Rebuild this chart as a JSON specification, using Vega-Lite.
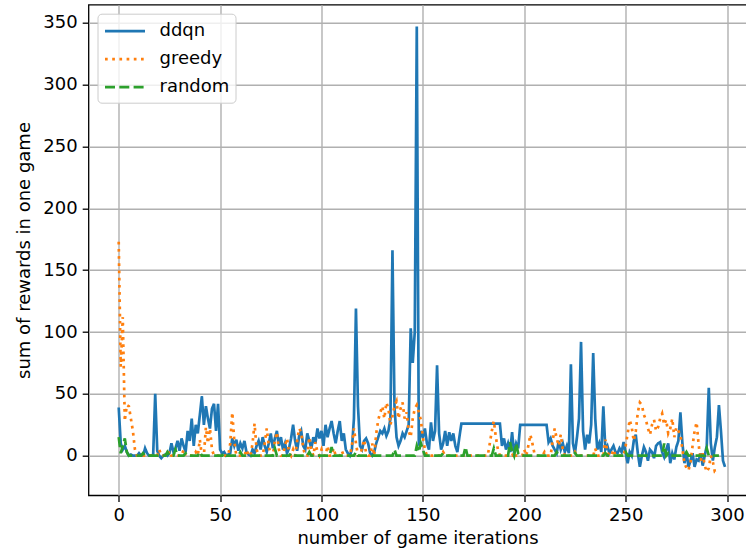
{
  "$schema": "https://vega.github.io/schema/vega-lite/v6.json",
  "width": 658,
  "height": 490.6,
  "autosize": {"type": "none"},
  "padding": {"left": 88.5, "top": 4.7, "right": 0, "bottom": 58.7},
  "background": "white",
  "config": {
    "font": "DejaVu Sans",
    "view": {"stroke": "black", "strokeWidth": 1.3},
    "axis": {
      "domain": false,
      "tickColor": "black",
      "tickSize": 6.3,
      "tickWidth": 1.3,
      "labelFont": "DejaVu Sans",
      "labelFontSize": 18,
      "labelColor": "black",
      "labelPadding": 5,
      "titleFont": "DejaVu Sans",
      "titleFontSize": 18,
      "titleFontWeight": "normal",
      "titleColor": "black",
      "gridColor": "#b0b0b0",
      "gridWidth": 1.4
    },
    "legend": {
      "orient": "top-left",
      "offset": 8.5,
      "padding": 6,
      "cornerRadius": 4,
      "strokeColor": "#cccccc",
      "fillColor": "rgba(255,255,255,0.8)",
      "symbolType": "M-2,0H2",
      "symbolSize": 400,
      "symbolOffset": 10,
      "symbolStrokeWidth": 2.7,
      "labelFont": "DejaVu Sans",
      "labelFontSize": 18,
      "labelColor": "black",
      "labelOffset": 23,
      "rowPadding": 7
    }
  },
  "data": {
    "values": [
      {"x":0,"ddqn":39,"greedy":173,"random":15},
      {"x":1,"ddqn":10,"greedy":72,"random":2},
      {"x":2,"ddqn":5,"greedy":112,"random":8},
      {"x":3,"ddqn":8,"greedy":28,"random":14},
      {"x":4,"ddqn":3,"greedy":41,"random":3},
      {"x":5,"ddqn":0,"greedy":40,"random":0},
      {"x":6,"ddqn":1,"greedy":30,"random":0},
      {"x":7,"ddqn":0,"greedy":20,"random":0},
      {"x":8,"ddqn":0,"greedy":5,"random":0},
      {"x":9,"ddqn":0,"greedy":0,"random":0},
      {"x":10,"ddqn":2,"greedy":0,"random":0},
      {"x":11,"ddqn":0,"greedy":0,"random":0},
      {"x":12,"ddqn":0,"greedy":0,"random":2},
      {"x":13,"ddqn":6,"greedy":0,"random":0},
      {"x":14,"ddqn":2,"greedy":0,"random":0},
      {"x":15,"ddqn":0,"greedy":0,"random":0},
      {"x":16,"ddqn":0,"greedy":0,"random":0},
      {"x":17,"ddqn":1,"greedy":0,"random":0},
      {"x":18,"ddqn":50,"greedy":0,"random":0},
      {"x":19,"ddqn":4,"greedy":0,"random":0},
      {"x":20,"ddqn":0,"greedy":5,"random":0},
      {"x":21,"ddqn":-2,"greedy":0,"random":0},
      {"x":22,"ddqn":0,"greedy":0,"random":0},
      {"x":23,"ddqn":1,"greedy":0,"random":0},
      {"x":24,"ddqn":0,"greedy":0,"random":3},
      {"x":25,"ddqn":2,"greedy":4,"random":0},
      {"x":26,"ddqn":10,"greedy":0,"random":0},
      {"x":27,"ddqn":3,"greedy":0,"random":0},
      {"x":28,"ddqn":6,"greedy":0,"random":5},
      {"x":29,"ddqn":12,"greedy":0,"random":0},
      {"x":30,"ddqn":4,"greedy":0,"random":0},
      {"x":31,"ddqn":14,"greedy":0,"random":0},
      {"x":32,"ddqn":8,"greedy":5,"random":0},
      {"x":33,"ddqn":3,"greedy":0,"random":2},
      {"x":34,"ddqn":20,"greedy":0,"random":0},
      {"x":35,"ddqn":12,"greedy":0,"random":0},
      {"x":36,"ddqn":30,"greedy":0,"random":0},
      {"x":37,"ddqn":8,"greedy":0,"random":0},
      {"x":38,"ddqn":25,"greedy":3,"random":0},
      {"x":39,"ddqn":18,"greedy":0,"random":0},
      {"x":40,"ddqn":33,"greedy":13,"random":3},
      {"x":41,"ddqn":48,"greedy":0,"random":0},
      {"x":42,"ddqn":25,"greedy":0,"random":0},
      {"x":43,"ddqn":40,"greedy":23,"random":0},
      {"x":44,"ddqn":30,"greedy":10,"random":0},
      {"x":45,"ddqn":22,"greedy":22,"random":0},
      {"x":46,"ddqn":38,"greedy":5,"random":0},
      {"x":47,"ddqn":42,"greedy":0,"random":0},
      {"x":48,"ddqn":20,"greedy":0,"random":0},
      {"x":49,"ddqn":42,"greedy":0,"random":0},
      {"x":50,"ddqn":5,"greedy":0,"random":0},
      {"x":51,"ddqn":2,"greedy":0,"random":0},
      {"x":52,"ddqn":3,"greedy":0,"random":2},
      {"x":53,"ddqn":0,"greedy":0,"random":0},
      {"x":54,"ddqn":1,"greedy":0,"random":0},
      {"x":55,"ddqn":2,"greedy":10,"random":0},
      {"x":56,"ddqn":14,"greedy":35,"random":0},
      {"x":57,"ddqn":8,"greedy":12,"random":0},
      {"x":58,"ddqn":13,"greedy":0,"random":0},
      {"x":59,"ddqn":4,"greedy":0,"random":0},
      {"x":60,"ddqn":10,"greedy":0,"random":3},
      {"x":61,"ddqn":6,"greedy":0,"random":0},
      {"x":62,"ddqn":12,"greedy":0,"random":0},
      {"x":63,"ddqn":3,"greedy":5,"random":0},
      {"x":64,"ddqn":1,"greedy":0,"random":0},
      {"x":65,"ddqn":0,"greedy":0,"random":0},
      {"x":66,"ddqn":5,"greedy":10,"random":0},
      {"x":67,"ddqn":2,"greedy":26,"random":0},
      {"x":68,"ddqn":8,"greedy":5,"random":0},
      {"x":69,"ddqn":12,"greedy":0,"random":0},
      {"x":70,"ddqn":5,"greedy":0,"random":0},
      {"x":71,"ddqn":15,"greedy":0,"random":0},
      {"x":72,"ddqn":8,"greedy":10,"random":0},
      {"x":73,"ddqn":3,"greedy":22,"random":0},
      {"x":74,"ddqn":10,"greedy":8,"random":0},
      {"x":75,"ddqn":18,"greedy":0,"random":0},
      {"x":76,"ddqn":6,"greedy":0,"random":0},
      {"x":77,"ddqn":14,"greedy":12,"random":6},
      {"x":78,"ddqn":20,"greedy":19,"random":0},
      {"x":79,"ddqn":8,"greedy":5,"random":0},
      {"x":80,"ddqn":15,"greedy":0,"random":0},
      {"x":81,"ddqn":5,"greedy":0,"random":0},
      {"x":82,"ddqn":10,"greedy":8,"random":0},
      {"x":83,"ddqn":2,"greedy":14,"random":0},
      {"x":84,"ddqn":6,"greedy":3,"random":0},
      {"x":85,"ddqn":14,"greedy":0,"random":2},
      {"x":86,"ddqn":25,"greedy":5,"random":0},
      {"x":87,"ddqn":12,"greedy":0,"random":0},
      {"x":88,"ddqn":4,"greedy":12,"random":0},
      {"x":89,"ddqn":16,"greedy":22,"random":0},
      {"x":90,"ddqn":20,"greedy":19,"random":0},
      {"x":91,"ddqn":8,"greedy":6,"random":0},
      {"x":92,"ddqn":5,"greedy":0,"random":0},
      {"x":93,"ddqn":18,"greedy":0,"random":0},
      {"x":94,"ddqn":12,"greedy":15,"random":3},
      {"x":95,"ddqn":6,"greedy":5,"random":0},
      {"x":96,"ddqn":15,"greedy":0,"random":0},
      {"x":97,"ddqn":10,"greedy":11,"random":0},
      {"x":98,"ddqn":22,"greedy":3,"random":0},
      {"x":99,"ddqn":14,"greedy":0,"random":0},
      {"x":100,"ddqn":20,"greedy":5,"random":0},
      {"x":101,"ddqn":8,"greedy":0,"random":0},
      {"x":102,"ddqn":25,"greedy":0,"random":0},
      {"x":103,"ddqn":15,"greedy":8,"random":0},
      {"x":104,"ddqn":22,"greedy":0,"random":0},
      {"x":105,"ddqn":28,"greedy":0,"random":7},
      {"x":106,"ddqn":18,"greedy":6,"random":0},
      {"x":107,"ddqn":10,"greedy":0,"random":0},
      {"x":108,"ddqn":20,"greedy":0,"random":0},
      {"x":109,"ddqn":28,"greedy":0,"random":0},
      {"x":110,"ddqn":12,"greedy":4,"random":0},
      {"x":111,"ddqn":18,"greedy":0,"random":0},
      {"x":112,"ddqn":5,"greedy":0,"random":0},
      {"x":113,"ddqn":2,"greedy":0,"random":0},
      {"x":114,"ddqn":0,"greedy":0,"random":0},
      {"x":115,"ddqn":5,"greedy":8,"random":0},
      {"x":116,"ddqn":30,"greedy":22,"random":0},
      {"x":117,"ddqn":119,"greedy":10,"random":3},
      {"x":118,"ddqn":40,"greedy":0,"random":0},
      {"x":119,"ddqn":8,"greedy":0,"random":0},
      {"x":120,"ddqn":5,"greedy":6,"random":0},
      {"x":121,"ddqn":12,"greedy":13,"random":0},
      {"x":122,"ddqn":14,"greedy":2,"random":0},
      {"x":123,"ddqn":10,"greedy":0,"random":0},
      {"x":124,"ddqn":2,"greedy":0,"random":0},
      {"x":125,"ddqn":0,"greedy":10,"random":0},
      {"x":126,"ddqn":3,"greedy":0,"random":0},
      {"x":127,"ddqn":10,"greedy":18,"random":0},
      {"x":128,"ddqn":15,"greedy":29,"random":0},
      {"x":129,"ddqn":20,"greedy":35,"random":0},
      {"x":130,"ddqn":18,"greedy":40,"random":0},
      {"x":131,"ddqn":22,"greedy":30,"random":0},
      {"x":132,"ddqn":16,"greedy":43,"random":0},
      {"x":133,"ddqn":20,"greedy":38,"random":0},
      {"x":134,"ddqn":30,"greedy":25,"random":0},
      {"x":135,"ddqn":166,"greedy":32,"random":0},
      {"x":136,"ddqn":40,"greedy":40,"random":5},
      {"x":137,"ddqn":15,"greedy":44,"random":0},
      {"x":138,"ddqn":8,"greedy":30,"random":0},
      {"x":139,"ddqn":12,"greedy":38,"random":0},
      {"x":140,"ddqn":18,"greedy":43,"random":0},
      {"x":141,"ddqn":15,"greedy":30,"random":0},
      {"x":142,"ddqn":20,"greedy":35,"random":0},
      {"x":143,"ddqn":25,"greedy":20,"random":0},
      {"x":144,"ddqn":103,"greedy":15,"random":0},
      {"x":145,"ddqn":75,"greedy":30,"random":0},
      {"x":146,"ddqn":100,"greedy":38,"random":0},
      {"x":147,"ddqn":347,"greedy":41,"random":8},
      {"x":148,"ddqn":8,"greedy":35,"random":3},
      {"x":149,"ddqn":20,"greedy":29,"random":10},
      {"x":150,"ddqn":15,"greedy":15,"random":5},
      {"x":151,"ddqn":22,"greedy":5,"random":0},
      {"x":152,"ddqn":10,"greedy":0,"random":0},
      {"x":153,"ddqn":5,"greedy":0,"random":0},
      {"x":154,"ddqn":27,"greedy":0,"random":0},
      {"x":155,"ddqn":12,"greedy":0,"random":0},
      {"x":156,"ddqn":20,"greedy":0,"random":0},
      {"x":157,"ddqn":73,"greedy":0,"random":0},
      {"x":158,"ddqn":18,"greedy":0,"random":0},
      {"x":159,"ddqn":5,"greedy":0,"random":0},
      {"x":160,"ddqn":10,"greedy":3,"random":2},
      {"x":161,"ddqn":20,"greedy":0,"random":0},
      {"x":162,"ddqn":8,"greedy":0,"random":0},
      {"x":163,"ddqn":19,"greedy":0,"random":0},
      {"x":164,"ddqn":12,"greedy":0,"random":0},
      {"x":165,"ddqn":18,"greedy":0,"random":0},
      {"x":166,"ddqn":8,"greedy":0,"random":0},
      {"x":167,"ddqn":3,"greedy":0,"random":0},
      {"x":168,"ddqn":15,"greedy":0,"random":0},
      {"x":169,"ddqn":26,"greedy":0,"random":0},
      {"x":170,"ddqn":26,"greedy":0,"random":0},
      {"x":171,"ddqn":26,"greedy":0,"random":7},
      {"x":172,"ddqn":26,"greedy":0,"random":0},
      {"x":173,"ddqn":26,"greedy":0,"random":0},
      {"x":174,"ddqn":26,"greedy":0,"random":0},
      {"x":175,"ddqn":26,"greedy":0,"random":0},
      {"x":176,"ddqn":26,"greedy":0,"random":0},
      {"x":177,"ddqn":26,"greedy":0,"random":0},
      {"x":178,"ddqn":26,"greedy":0,"random":0},
      {"x":179,"ddqn":26,"greedy":0,"random":0},
      {"x":180,"ddqn":26,"greedy":0,"random":0},
      {"x":181,"ddqn":26,"greedy":0,"random":0},
      {"x":182,"ddqn":26,"greedy":0,"random":0},
      {"x":183,"ddqn":26,"greedy":10,"random":0},
      {"x":184,"ddqn":26,"greedy":20,"random":0},
      {"x":185,"ddqn":26,"greedy":28,"random":6},
      {"x":186,"ddqn":26,"greedy":15,"random":0},
      {"x":187,"ddqn":26,"greedy":5,"random":0},
      {"x":188,"ddqn":26,"greedy":0,"random":0},
      {"x":189,"ddqn":8,"greedy":0,"random":0},
      {"x":190,"ddqn":14,"greedy":0,"random":0},
      {"x":191,"ddqn":5,"greedy":0,"random":0},
      {"x":192,"ddqn":10,"greedy":0,"random":0},
      {"x":193,"ddqn":3,"greedy":0,"random":11},
      {"x":194,"ddqn":19,"greedy":0,"random":4},
      {"x":195,"ddqn":2,"greedy":3,"random":0},
      {"x":196,"ddqn":10,"greedy":0,"random":10},
      {"x":197,"ddqn":6,"greedy":0,"random":2},
      {"x":198,"ddqn":25,"greedy":0,"random":0},
      {"x":199,"ddqn":25,"greedy":0,"random":0},
      {"x":200,"ddqn":25,"greedy":5,"random":0},
      {"x":201,"ddqn":25,"greedy":0,"random":0},
      {"x":202,"ddqn":25,"greedy":8,"random":0},
      {"x":203,"ddqn":25,"greedy":17,"random":0},
      {"x":204,"ddqn":25,"greedy":10,"random":0},
      {"x":205,"ddqn":25,"greedy":2,"random":0},
      {"x":206,"ddqn":25,"greedy":0,"random":0},
      {"x":207,"ddqn":25,"greedy":0,"random":0},
      {"x":208,"ddqn":25,"greedy":0,"random":0},
      {"x":209,"ddqn":25,"greedy":0,"random":0},
      {"x":210,"ddqn":25,"greedy":3,"random":0},
      {"x":211,"ddqn":25,"greedy":0,"random":0},
      {"x":212,"ddqn":11,"greedy":0,"random":0},
      {"x":213,"ddqn":14,"greedy":0,"random":0},
      {"x":214,"ddqn":8,"greedy":12,"random":0},
      {"x":215,"ddqn":5,"greedy":22,"random":0},
      {"x":216,"ddqn":2,"greedy":14,"random":3},
      {"x":217,"ddqn":12,"greedy":8,"random":0},
      {"x":218,"ddqn":5,"greedy":17,"random":0},
      {"x":219,"ddqn":10,"greedy":5,"random":0},
      {"x":220,"ddqn":3,"greedy":0,"random":0},
      {"x":221,"ddqn":8,"greedy":0,"random":0},
      {"x":222,"ddqn":2,"greedy":0,"random":0},
      {"x":223,"ddqn":74,"greedy":0,"random":0},
      {"x":224,"ddqn":10,"greedy":0,"random":0},
      {"x":225,"ddqn":2,"greedy":3,"random":2},
      {"x":226,"ddqn":15,"greedy":0,"random":0},
      {"x":227,"ddqn":30,"greedy":0,"random":0},
      {"x":228,"ddqn":92,"greedy":0,"random":0},
      {"x":229,"ddqn":20,"greedy":0,"random":0},
      {"x":230,"ddqn":5,"greedy":0,"random":0},
      {"x":231,"ddqn":17,"greedy":0,"random":0},
      {"x":232,"ddqn":10,"greedy":0,"random":0},
      {"x":233,"ddqn":25,"greedy":0,"random":0},
      {"x":234,"ddqn":83,"greedy":0,"random":0},
      {"x":235,"ddqn":30,"greedy":6,"random":0},
      {"x":236,"ddqn":5,"greedy":0,"random":0},
      {"x":237,"ddqn":10,"greedy":0,"random":0},
      {"x":238,"ddqn":3,"greedy":0,"random":0},
      {"x":239,"ddqn":40,"greedy":0,"random":0},
      {"x":240,"ddqn":5,"greedy":13,"random":2},
      {"x":241,"ddqn":8,"greedy":3,"random":0},
      {"x":242,"ddqn":2,"greedy":0,"random":0},
      {"x":243,"ddqn":5,"greedy":0,"random":0},
      {"x":244,"ddqn":8,"greedy":5,"random":0},
      {"x":245,"ddqn":3,"greedy":0,"random":0},
      {"x":246,"ddqn":2,"greedy":0,"random":0},
      {"x":247,"ddqn":6,"greedy":0,"random":0},
      {"x":248,"ddqn":3,"greedy":0,"random":0},
      {"x":249,"ddqn":11,"greedy":0,"random":0},
      {"x":250,"ddqn":2,"greedy":8,"random":3},
      {"x":251,"ddqn":-6,"greedy":18,"random":0},
      {"x":252,"ddqn":3,"greedy":29,"random":0},
      {"x":253,"ddqn":0,"greedy":23,"random":0},
      {"x":254,"ddqn":12,"greedy":12,"random":0},
      {"x":255,"ddqn":17,"greedy":20,"random":0},
      {"x":256,"ddqn":2,"greedy":35,"random":0},
      {"x":257,"ddqn":-9,"greedy":43,"random":0},
      {"x":258,"ddqn":0,"greedy":41,"random":0},
      {"x":259,"ddqn":7,"greedy":33,"random":0},
      {"x":260,"ddqn":3,"greedy":29,"random":0},
      {"x":261,"ddqn":-4,"greedy":22,"random":0},
      {"x":262,"ddqn":5,"greedy":17,"random":0},
      {"x":263,"ddqn":3,"greedy":25,"random":0},
      {"x":264,"ddqn":-2,"greedy":29,"random":0},
      {"x":265,"ddqn":8,"greedy":20,"random":0},
      {"x":266,"ddqn":10,"greedy":23,"random":0},
      {"x":267,"ddqn":11,"greedy":30,"random":0},
      {"x":268,"ddqn":3,"greedy":34,"random":0},
      {"x":269,"ddqn":-1,"greedy":25,"random":10},
      {"x":270,"ddqn":5,"greedy":29,"random":0},
      {"x":271,"ddqn":10,"greedy":18,"random":2},
      {"x":272,"ddqn":-6,"greedy":22,"random":0},
      {"x":273,"ddqn":2,"greedy":30,"random":0},
      {"x":274,"ddqn":-3,"greedy":15,"random":0},
      {"x":275,"ddqn":7,"greedy":23,"random":0},
      {"x":276,"ddqn":12,"greedy":20,"random":0},
      {"x":277,"ddqn":35,"greedy":17,"random":0},
      {"x":278,"ddqn":10,"greedy":5,"random":0},
      {"x":279,"ddqn":-6,"greedy":-6,"random":0},
      {"x":280,"ddqn":3,"greedy":-10,"random":3},
      {"x":281,"ddqn":-9,"greedy":-12,"random":0},
      {"x":282,"ddqn":-4,"greedy":-5,"random":0},
      {"x":283,"ddqn":2,"greedy":8,"random":0},
      {"x":284,"ddqn":-9,"greedy":20,"random":0},
      {"x":285,"ddqn":-3,"greedy":27,"random":0},
      {"x":286,"ddqn":-4,"greedy":9,"random":0},
      {"x":287,"ddqn":2,"greedy":-4,"random":0},
      {"x":288,"ddqn":-8,"greedy":2,"random":0},
      {"x":289,"ddqn":0,"greedy":-8,"random":0},
      {"x":290,"ddqn":8,"greedy":-13,"random":6},
      {"x":291,"ddqn":55,"greedy":-10,"random":0},
      {"x":292,"ddqn":10,"greedy":0,"random":0},
      {"x":293,"ddqn":-4,"greedy":-5,"random":0},
      {"x":294,"ddqn":7,"greedy":-13,"random":0},
      {"x":295,"ddqn":15,"greedy":-13,"random":0},
      {"x":296,"ddqn":41,"greedy":-13,"random":0},
      {"x":297,"ddqn":20,"greedy":null,"random":null},
      {"x":298,"ddqn":-4,"greedy":null,"random":null},
      {"x":299,"ddqn":-9,"greedy":null,"random":null}
    ]
  },
  "transform": [
    {"fold": ["ddqn", "greedy", "random"], "as": ["series", "value"]},
    {"filter": "isValid(datum.value)"}
  ],
  "mark": {"type": "line", "strokeWidth": 2.7, "clip": true},
  "encoding": {
    "x": {
      "field": "x",
      "type": "quantitative",
      "scale": {"domain": [-14.9, 309.6], "nice": false, "zero": false},
      "axis": {"values": [0, 50, 100, 150, 200, 250, 300], "title": "number of game iterations", "titlePadding": 5}
    },
    "y": {
      "field": "value",
      "type": "quantitative",
      "scale": {"domain": [-32.0, 364.6], "nice": false, "zero": false},
      "axis": {"values": [0, 50, 100, 150, 200, 250, 300, 350], "title": "sum of rewards in one game", "titlePadding": 9}
    },
    "color": {
      "field": "series",
      "type": "nominal",
      "scale": {"domain": ["ddqn", "greedy", "random"], "range": ["#1f77b4", "#ff7f0e", "#2ca02c"]},
      "legend": {"title": null}
    },
    "strokeDash": {
      "field": "series",
      "type": "nominal",
      "scale": {"domain": ["ddqn", "greedy", "random"], "range": [[1, 0], [2.7, 4.5], [10, 4.3]]},
      "legend": {"title": null}
    },
    "order": {"field": "x", "type": "quantitative"}
  }
}
